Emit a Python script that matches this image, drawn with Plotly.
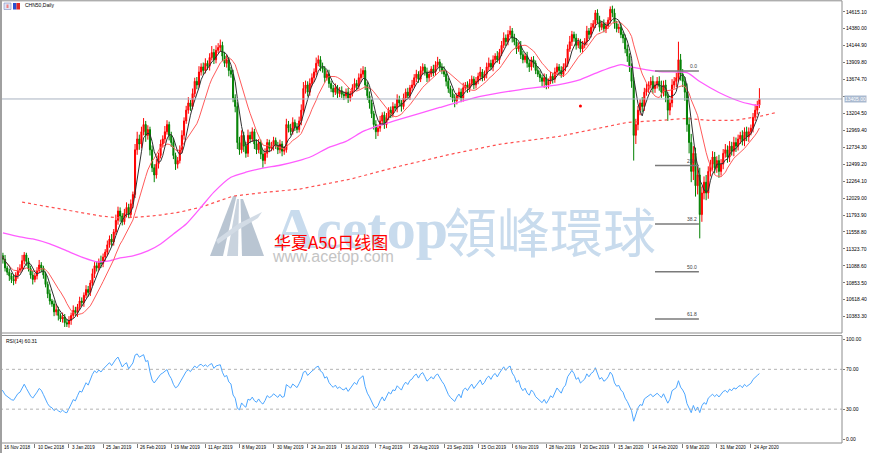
import pandas as pd
import plotly.graph_objects as go

W, H = 870, 453

# ---------------- data ----------------
closes = [
    11230, 11180, 11060, 11000, 10950, 10900, 10880, 10960, 11020, 11050,
    11160, 11240, 11150, 11050, 10960, 10900, 10950, 11020, 11100, 11060,
    10960, 10830, 10700, 10600, 10560, 10450, 10480, 10400, 10350, 10380,
    10300, 10280, 10330, 10400, 10470, 10440, 10520, 10600, 10580, 10680,
    10760, 10720, 10850, 10980, 11090, 11060, 11150, 11120, 11210, 11280,
    11380, 11460, 11420, 11560, 11720, 11850, 11780, 11700, 11820, 11900,
    11800, 11950, 12080, 12700, 12850, 12780, 12950, 13050, 12900, 12980,
    12700, 12450, 12350, 12500, 12620, 12780, 12850, 12950, 13050, 12900,
    12800, 12620, 12500, 12550, 12700, 12900, 13100, 13250, 13350, 13300,
    13480, 13650, 13600, 13780, 13850, 13800, 13900, 13860, 13980, 14050,
    13950, 14080, 14120, 14150, 14000, 13900, 13950, 13800, 13750, 13420,
    13300, 12800, 12700, 12900, 12750, 12650, 12900, 12850, 12950, 12780,
    12700, 12800, 12640, 12550, 12650, 12800, 12720, 12750, 12830, 12760,
    12700, 12780, 12680, 12700, 13050, 13000, 12950, 13080, 13020, 12980,
    13100, 13250, 13550, 13600, 13500, 13620, 13700, 13780, 13900, 13950,
    13850, 13820, 13700, 13750, 13620, 13550, 13500, 13560, 13480, 13520,
    13470, 13450, 13500, 13420, 13480, 13560, 13620, 13580, 13700, 13750,
    13800, 13600, 13450, 13350, 13200, 13050, 12950, 13000, 13100, 13180,
    13050, 13150, 13250, 13200, 13300, 13280, 13400, 13350, 13300, 13420,
    13500, 13450, 13560, 13600, 13700, 13750, 13680, 13800, 13850, 13780,
    13700, 13750, 13820, 13780, 13880, 13920, 13850, 13800, 13750, 13650,
    13550, 13480, 13420, 13380, 13450, 13500, 13420, 13560, 13600, 13550,
    13620, 13680, 13600, 13650, 13720, 13780, 13700, 13750, 13850, 13900,
    13850, 13950, 14000, 13950, 14050, 14150, 14250, 14200, 14300, 14350,
    14250, 14200, 14100, 14150, 14020, 13950, 14000, 13900, 13850, 13950,
    13900, 13800, 13750, 13700, 13650, 13700, 13600, 13650, 13720, 13680,
    13780, 13850, 13800, 13750, 13850, 13900, 14100, 14200, 14300, 14250,
    14150, 14200, 14100, 14150, 14200, 14350, 14300, 14400, 14450, 14600,
    14500, 14400, 14450, 14380, 14420, 14500, 14650, 14600, 14450, 14380,
    14400, 14300, 14250, 14100, 14000, 13850, 13650, 12900, 13050, 13250,
    13350, 13300, 13500, 13550, 13600, 13650, 13550, 13600, 13650, 13580,
    13500, 13600, 13450, 13250, 13350, 13600, 13650, 13700, 13950, 13750,
    13650, 13500, 13050, 12800, 12400, 12650, 12200, 12350, 11800, 12100,
    12250, 12100, 12400, 12500, 12600, 12450, 12550, 12400, 12500, 12650,
    12700, 12600, 12750, 12680, 12800, 12750, 12850, 12900, 12820, 12950,
    12880, 12950, 13000, 13150, 13250, 13320, 13405,
]
first_open = 11260

upper_wicks = [
    50, 40, 60, 30, 50, 40, 70, 40, 50, 60,
    80, 40, 30, 50, 40, 60, 40, 50, 70, 40,
    30, 50, 40, 60, 30, 50, 80, 40, 30, 60,
    40, 50, 60, 40, 70, 50, 40, 60, 50, 40,
    60, 50, 40, 70, 50, 60, 40, 80, 50, 40,
    60, 50, 70, 40, 80, 60, 50, 40, 60, 70,
    50, 60, 40, 80, 100, 60, 70, 90, 50, 60,
    40, 60, 50, 70, 40, 60, 50, 80, 60, 40,
    50, 60, 40, 50, 60, 70, 50, 60, 80, 40,
    70, 50, 60, 80, 50, 60, 70, 40, 60, 90,
    50, 70, 60, 80, 50, 60, 70, 40, 50, 60,
    50, 60, 80, 70, 50, 60, 80, 50, 60, 40,
    60, 50, 40, 60, 70, 50, 40, 60, 50, 40,
    50, 60, 40, 50, 80, 50, 60, 70, 40, 50,
    60, 80, 90, 60, 50, 70, 60, 50, 80, 60,
    50, 60, 40, 50, 60, 40, 50, 60, 40, 50,
    60, 40, 50, 60, 40, 50, 70, 50, 60, 80,
    60, 50, 40, 60, 50, 40, 60, 50, 70, 40,
    50, 60, 40, 50, 60, 40, 70, 50, 40, 60,
    50, 60, 40, 70, 50, 60, 40, 60, 50, 40,
    60, 50, 40, 60, 50, 70, 40, 50, 60, 40,
    50, 40, 60, 50, 40, 60, 50, 70, 40, 50,
    60, 50, 40, 60, 50, 70, 40, 50, 60, 80,
    50, 60, 40, 70, 50, 60, 80, 50, 60, 70,
    40, 60, 50, 40, 60, 50, 40, 60, 50, 40,
    50, 40, 60, 50, 40, 60, 50, 40, 60, 50,
    60, 50, 40, 60, 50, 70, 60, 80, 50, 40,
    60, 50, 40, 60, 50, 70, 40, 60, 50, 40,
    50, 60, 40, 60, 50, 40, 40, 50, 60, 40,
    50, 60, 40, 50, 60, 40, 50, 60, 80, 60,
    50, 80, 60, 70, 50, 60, 80, 50, 60, 70,
    80, 60, 70, 50, 60, 80, 60, 70, 250, 80,
    70, 60, 120, 100, 120, 100, 80, 120, 100, 90,
    80, 100, 70, 60, 80, 70, 60, 80, 70, 60,
    80, 60, 70, 60, 80, 70, 60, 50, 70, 60,
    70, 60, 50, 60, 80, 60, 150,
]
lower_wicks = [
    40, 60, 50, 40, 70, 50, 60, 40, 50, 30,
    40, 50, 60, 40, 50, 70, 40, 50, 30, 60,
    50, 40, 60, 50, 40, 60, 50, 70, 40, 50,
    60, 40, 50, 60, 40, 50, 60, 40, 50, 60,
    40, 60, 50, 40, 60, 50, 40, 60, 50, 60,
    50, 40, 60, 50, 40, 60, 80, 50, 40, 60,
    50, 40, 60, 50, 70, 80, 60, 50, 90, 60,
    80, 60, 100, 50, 60, 40, 50, 60, 40, 70,
    60, 50, 80, 60, 40, 50, 60, 40, 50, 60,
    40, 50, 60, 40, 50, 60, 40, 50, 60, 40,
    60, 50, 40, 60, 70, 50, 60, 80, 50, 60,
    80, 90, 70, 50, 80, 60, 50, 60, 40, 70,
    60, 50, 70, 100, 50, 60, 50, 40, 60, 50,
    60, 50, 70, 50, 40, 60, 50, 40, 60, 50,
    40, 60, 50, 70, 60, 50, 40, 60, 50, 40,
    60, 50, 70, 40, 60, 50, 70, 40, 60, 50,
    50, 60, 40, 70, 50, 40, 60, 50, 40, 60,
    50, 70, 60, 80, 60, 70, 100, 60, 50, 60,
    60, 50, 40, 60, 50, 40, 60, 50, 70, 40,
    50, 40, 60, 50, 40, 60, 50, 40, 60, 50,
    60, 50, 40, 60, 50, 40, 60, 50, 40, 70,
    60, 50, 60, 90, 50, 40, 60, 50, 40, 60,
    50, 40, 60, 50, 40, 60, 50, 40, 60, 50,
    40, 60, 50, 40, 60, 50, 40, 60, 50, 40,
    60, 50, 70, 40, 60, 50, 40, 60, 70, 50,
    60, 50, 40, 60, 70, 90, 60, 50, 40, 60,
    50, 40, 60, 50, 40, 60, 50, 40, 60, 50,
    60, 40, 50, 60, 40, 50, 60, 40, 50, 60,
    50, 60, 40, 50, 60, 40, 50, 60, 70, 50,
    60, 50, 70, 60, 80, 70, 90, 350, 120, 80,
    70, 80, 60, 50, 60, 50, 70, 60, 50, 60,
    80, 60, 90, 150, 70, 60, 50, 80, 60, 90,
    80, 120, 100, 150, 150, 120, 150, 120, 330, 100,
    90, 100, 80, 70, 90, 80, 70, 90, 60, 70,
    60, 80, 70, 60, 70, 80, 60, 70, 60, 70,
    60, 70, 50, 60, 50, 60, 40,
]

date_label_bars = [0, 16, 32, 48, 64, 80, 96, 112, 128, 144, 160, 176,
                   192, 208, 224, 240, 256, 272, 288, 304, 320, 336, 352]
date_labels = ["16 Nov 2018", "10 Dec 2018", "3 Jan 2019", "25 Jan 2019",
               "26 Feb 2019", "19 Mar 2019", "11 Apr 2019", "8 May 2019",
               "30 May 2019", "24 Jun 2019", "16 Jul 2019", "7 Aug 2019",
               "29 Aug 2019", "23 Sep 2019", "15 Oct 2019", "6 Nov 2019",
               "28 Nov 2019", "20 Dec 2019", "15 Jan 2020", "14 Feb 2020",
               "9 Mar 2020", "31 Mar 2020", "24 Apr 2020"]

price_ticks = [14615.10, 14380.00, 14144.90, 13909.80, 13674.70, 13439.60,
               13204.50, 12969.40, 12734.30, 12499.20, 12264.10, 12029.00,
               11793.90, 11558.80, 11323.70, 11088.60, 10853.50, 10618.40,
               10383.30]
rsi_ticks = [100.0, 70.0, 30.0, 0.0]
rsi_levels = [70, 30]

# slow moving averages (bar index, price)
magenta_bars = [1, 9, 15, 23, 31, 39, 45, 51, 56, 62, 69, 75, 81, 87, 94, 100,
                108, 115, 123, 131, 139, 146, 154, 162, 170, 175, 187, 206,
                225, 244, 262, 272, 281, 291, 295, 309, 322, 328, 337, 347,
                355, 356]
magenta_vals = [11545, 11490, 11462, 11393, 11296, 11199, 11144, 11158, 11199,
                11227, 11296, 11393, 11531, 11669, 11904, 12112, 12319, 12388,
                12444, 12485, 12541, 12610, 12734, 12817, 12955, 13011, 13121,
                13287, 13440, 13536, 13605, 13675, 13785, 13882, 13854, 13785,
                13771, 13647, 13495, 13370, 13315, 13329]
dotted_bars = [10, 23, 36, 47, 56, 65, 75, 84, 94, 109, 125, 140, 164, 187,
               211, 234, 262, 278, 294, 309, 322, 333, 344, 356, 364]
dotted_vals = [11973, 11904, 11835, 11780, 11752, 11766, 11794, 11835, 11904,
               12057, 12112, 12153, 12292, 12471, 12637, 12776, 12886, 12983,
               13080, 13107, 13135, 13107, 13107, 13163, 13218]

fib_labels = ["0.0", "23.6", "38.2", "50.0", "61.8"]
fib_prices = [13795, 12480, 11670, 11008, 10351]
fib_from_bar, fib_to_bar = 307, 327.6

current_price = 13405
current_label = "13405.00"
hidden_tick = 13439.60          # covered by the current-price tag
dot_bar, dot_price = 272, 13309

title_text = "CHN50,Daily"
rsi_text = "RSI(14) 60.31"

# ---------------- derived series ----------------
n = len(closes)
bars = list(range(n))
opens = [first_open] + closes[:-1]
highs = [max(o, c) + u for o, c, u in zip(opens, closes, upper_wicks)]
lows = [min(o, c) - l for o, c, l in zip(opens, closes, lower_wicks)]

s = pd.Series(closes, dtype=float)
ma_fast = s.rolling(5, min_periods=1).mean()
ma_mid = s.rolling(13, min_periods=1).mean()

# Wilder RSI(14), seeded neutral
ag, al = 55.0, 55.0
rsi = [50.0]
for i in range(1, n):
    d = closes[i] - closes[i - 1]
    ag = (ag * 13 + max(d, 0)) / 14
    al = (al * 13 + max(-d, 0)) / 14
    rsi.append(100 - 100 / (1 + ag / al) if al > 0 else 100.0)

# ---------------- geometry helpers ----------------
def X(px):
    return px / W

def Y(py):
    return 1 - py / H

plot_right = 842
x_range = [-0.375, 394.75]
y_main = [10156.4, 14767.9]
y_rsi = [-4, 104]

fig = go.Figure()

fig.add_trace(go.Candlestick(
    x=bars, open=opens, high=highs, low=lows, close=closes,
    increasing=dict(line=dict(color="#ff0000", width=1), fillcolor="#ff0000"),
    decreasing=dict(line=dict(color="#008000", width=1), fillcolor="#008000"),
    whiskerwidth=0, hoverinfo="skip", xaxis="x", yaxis="y"))

fig.add_trace(go.Scatter(x=dotted_bars, y=dotted_vals, mode="lines",
                         line=dict(color="#ff5050", width=1.2, dash="dot"),
                         hoverinfo="skip", xaxis="x", yaxis="y"))
fig.add_trace(go.Scatter(x=magenta_bars, y=magenta_vals, mode="lines",
                         line=dict(color="#ff5cff", width=1.3, shape="spline", smoothing=0.6),
                         hoverinfo="skip", xaxis="x", yaxis="y"))
fig.add_trace(go.Scatter(x=bars, y=ma_mid, mode="lines",
                         line=dict(color="#ff5a5a", width=1),
                         hoverinfo="skip", xaxis="x", yaxis="y"))
fig.add_trace(go.Scatter(x=bars, y=ma_fast, mode="lines",
                         line=dict(color="#303030", width=1),
                         hoverinfo="skip", xaxis="x", yaxis="y"))
fig.add_trace(go.Scatter(x=[dot_bar], y=[dot_price], mode="markers",
                         marker=dict(color="#ff0000", size=3),
                         hoverinfo="skip", xaxis="x", yaxis="y"))

# RSI
fig.add_trace(go.Scatter(x=bars, y=rsi, mode="lines",
                         line=dict(color="#4da6ff", width=1),
                         hoverinfo="skip", xaxis="x2", yaxis="y2"))

shapes = []
shapes.append(dict(type="line", xref="paper", yref="y", x0=0, x1=X(plot_right),
                   y0=current_price, y1=current_price,
                   line=dict(color="#a8b2c0", width=1)))
for lv in rsi_levels:
    shapes.append(dict(type="line", xref="paper", yref="y2", x0=0, x1=X(plot_right),
                       y0=lv, y1=lv, line=dict(color="#b4b4b4", width=1, dash="dot")))
for p in fib_prices:
    shapes.append(dict(type="line", xref="x", yref="y", x0=fib_from_bar, x1=fib_to_bar,
                       y0=p, y1=p, line=dict(color="#7a7a7a", width=1.5)))
frame_col = "#8c8c8c"
shapes.append(dict(type="rect", xref="paper", yref="paper", x0=X(1), x1=X(plot_right),
                   y0=Y(333), y1=Y(0.8), line=dict(color=frame_col, width=1)))
shapes.append(dict(type="rect", xref="paper", yref="paper", x0=X(1), x1=X(plot_right),
                   y0=Y(443), y1=Y(335.5), line=dict(color=frame_col, width=1)))
shapes.append(dict(type="line", xref="paper", yref="paper", x0=X(1), x1=X(1),
                   y0=0, y1=1, line=dict(color="#a0a0a0", width=2)))

# title icons
shapes.append(dict(type="rect", xref="paper", yref="paper", x0=X(4), x1=X(11),
                   y0=Y(9.5), y1=Y(3), fillcolor="#dfe4f4",
                   line=dict(color="#7d8cc0", width=0.6)))
shapes.append(dict(type="rect", xref="paper", yref="paper", x0=X(6.5), x1=X(8.5),
                   y0=Y(8), y1=Y(4.5), fillcolor="#f08080", line=dict(width=0)))
shapes.append(dict(type="rect", xref="paper", yref="paper", x0=X(13), x1=X(16.5),
                   y0=Y(9.5), y1=Y(3), fillcolor="#2a4fd0", line=dict(width=0)))
shapes.append(dict(type="rect", xref="paper", yref="paper", x0=X(16.5), x1=X(20),
                   y0=Y(9.5), y1=Y(3), fillcolor="#e02828", line=dict(width=0)))

def poly(pts):
    return "M " + " L ".join(f"{X(a):.5f},{Y(b):.5f}" for a, b in pts) + " Z"

logo_parts = [
    ([(210, 256), (233, 196), (236.5, 196), (223, 256)], "#b9c5d2"),
    ([(227, 256), (237, 199), (239, 199), (238, 256)], "#c9d3de"),
    ([(242, 256), (240.5, 199), (243, 199), (264, 256)], "#b9c5d2"),
    ([(216, 240), (238, 224), (262, 212), (258, 218), (238, 230), (218, 244)], "#d2dbe5"),
]
for pts, col in logo_parts:
    shapes.append(dict(type="path", xref="paper", yref="paper", path=poly(pts),
                       fillcolor=col, line=dict(width=0), layer="below"))

annotations = []
small = dict(family="Liberation Sans", size=5, color="#000000")
annotations.append(dict(x=X(23), y=Y(5.5), xref="paper", yref="paper", text=title_text,
                        showarrow=False, xanchor="left", yanchor="middle", font=small))
annotations.append(dict(x=X(3.5), y=Y(341), xref="paper", yref="paper", text=rsi_text,
                        showarrow=False, xanchor="left", yanchor="middle", font=small))
for b, lab in zip(date_label_bars, date_labels):
    annotations.append(dict(x=b, y=Y(447.5), xref="x", yref="paper", text=lab,
                            showarrow=False, xanchor="left", yanchor="middle",
                            xshift=1, font=dict(family="Liberation Sans", size=4.6, color="#000")))
for lab, p in zip(fib_labels, fib_prices):
    annotations.append(dict(x=fib_to_bar, y=p, xref="x", yref="y", text=lab,
                            showarrow=False, xanchor="right", yanchor="bottom",
                            font=dict(family="Liberation Sans", size=5, color="#404040")))
annotations.append(dict(x=X(843.5), y=current_price, xref="paper", yref="y",
                        text=current_label, showarrow=False, xanchor="left",
                        yanchor="middle", bgcolor="#a9b9cf", borderpad=0,
                        font=dict(family="Liberation Sans", size=5, color="#ffffff")))
# watermark text
annotations.append(dict(x=X(272), y=Y(228), xref="paper", yref="paper", text="<b>Acetop</b>",
                        showarrow=False, xanchor="left", yanchor="middle",
                        font=dict(family="Liberation Serif, DejaVu Serif, serif", size=58,
                                  color="#c8dbed")))
annotations.append(dict(x=X(442), y=Y(230), xref="paper", yref="paper", text="領峰環球",
                        showarrow=False, xanchor="left", yanchor="middle",
                        font=dict(family="Noto Sans CJK TC", size=53, color="#c8dbed")))
annotations.append(dict(x=X(270), y=Y(256), xref="paper", yref="paper", text="www.acetop.com",
                        showarrow=False, xanchor="left", yanchor="middle",
                        font=dict(family="Liberation Sans", size=16, color="#c4c4c4")))
annotations.append(dict(x=X(272), y=Y(242), xref="paper", yref="paper", text="华夏A50日线图",
                        showarrow=False, xanchor="left", yanchor="middle",
                        font=dict(family="Noto Sans CJK SC", size=17, color="#ff0000")))

tickfont = dict(family="Liberation Sans", size=5, color="#000000")
fig.update_layout(
    width=W, height=H, margin=dict(l=0, r=0, t=0, b=0),
    paper_bgcolor="white", plot_bgcolor="white", showlegend=False,
    shapes=shapes, annotations=annotations,
    xaxis=dict(domain=[0, X(plot_right)], range=x_range, showticklabels=False,
               showgrid=False, zeroline=False, showline=False, ticks="",
               rangeslider=dict(visible=False), anchor="y"),
    xaxis2=dict(domain=[0, X(plot_right)], range=x_range, matches="x", anchor="y2",
                showticklabels=False, showgrid=False, zeroline=False, showline=False,
                ticks="outside", ticklen=4, tickwidth=1, tickcolor="#7a7a7a",
                tickmode="array", tickvals=date_label_bars),
    yaxis=dict(domain=[Y(333), Y(0.8)], range=y_main, side="right", anchor="x",
               tickmode="array", tickvals=price_ticks,
               ticktext=["" if v == hidden_tick else f"{v:.2f}" for v in price_ticks],
               ticks="outside", ticklen=2, tickcolor="#7a7a7a", tickfont=tickfont,
               showgrid=False, zeroline=False, showline=False),
    yaxis2=dict(domain=[Y(443), Y(335.5)], range=y_rsi, side="right", anchor="x2",
                tickmode="array", tickvals=rsi_ticks,
                ticktext=[f"{v:.2f}" for v in rsi_ticks],
                ticks="outside", ticklen=2, tickcolor="#7a7a7a", tickfont=tickfont,
                showgrid=False, zeroline=False, showline=False),
)

fig.write_html("out.html")
